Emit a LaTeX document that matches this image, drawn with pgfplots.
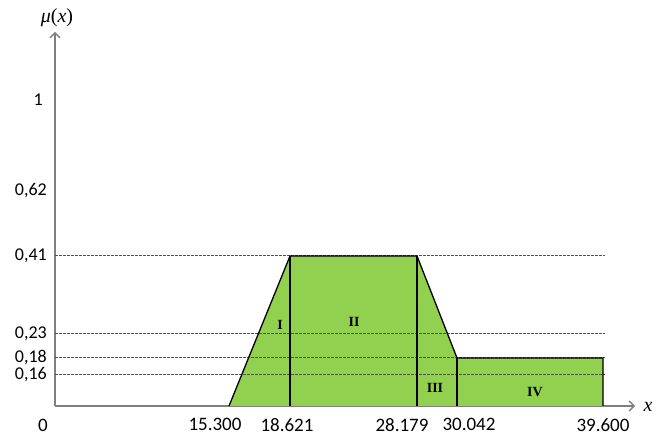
\documentclass[border=0pt]{standalone}
\usepackage{pgfplots}
\pgfplotsset{compat=1.18}
\usepackage{fontspec}
\setmainfont{Carlito}
\newfontfamily\romanfont{Liberation Serif}
\usetikzlibrary{arrows.meta}
\definecolor{fillgreen}{HTML}{92D050}
\definecolor{axisgray}{HTML}{7F7F7F}
\definecolor{dashgray}{HTML}{505050}
\begin{document}
\begin{tikzpicture}[x=1pt,y=1pt]
\begin{axis}[
  at={(55pt,30pt)}, anchor=origin,
  x=1pt, y=1pt,
  xmin=0, xmax=580, ymin=0, ymax=374,
  axis lines=left,
  axis line style={axisgray, line width=1.3pt, -{Straight Barb[length=5pt,width=10pt]}},
  major tick length=0pt,
  clip=false,
  font=\fontsize{19}{22}\selectfont,
  ytick={31,48,72,150,215,306},
  yticklabels={{0,16},{0,18},{0,23},{0,41},{0,62},{1\hspace*{4pt}}},
  yticklabel style={anchor=east, inner sep=0pt, font=\fontsize{18}{20}\selectfont},
  yticklabel shift=8pt,
  xtick={160,232,347,414,548},
  xticklabels={15.300,18.621,28.179,30.042,39.600},
  xticklabel style={anchor=north, inner sep=0pt},
  xticklabel shift=12pt,
]
% filled membership area
\addplot[fill=fillgreen, draw=none, forget plot] coordinates {(174,0) (235,150) (362,150) (402,48) (548,48) (548,0)} -- cycle;
% dashed reference levels
\addplot[dashgray, line width=1pt, dash pattern=on 2.5pt off 1.5pt] coordinates {(0,31) (550,31)};
\addplot[dashgray, line width=1pt, dash pattern=on 2.5pt off 1.5pt] coordinates {(0,48) (550,48)};
\addplot[dashgray, line width=1pt, dash pattern=on 2.5pt off 1.5pt] coordinates {(0,72) (550,72)};
\addplot[dashgray, line width=1pt, dash pattern=on 2.5pt off 1.5pt] coordinates {(0,150) (550,150)};
% outline
\addplot[black, line width=1.3pt] coordinates {(174,0) (235,150) (362,150) (402,48) (548,48) (548,0)};
\addplot[black, line width=1.3pt] coordinates {(235,0) (235,150)};
\addplot[black, line width=1.3pt] coordinates {(362,0) (362,150)};
\addplot[black, line width=1.3pt] coordinates {(402,0) (402,48)};
% region labels
\node[font=\romanfont\bfseries\fontsize{14}{16}\selectfont] at (axis cs:225,81) {I};
\node[font=\romanfont\bfseries\fontsize{14}{16}\selectfont] at (axis cs:299,84) {II};
\node[font=\romanfont\bfseries\fontsize{14}{16}\selectfont] at (axis cs:380,18) {III};
\node[font=\romanfont\bfseries\fontsize{14}{16}\selectfont] at (axis cs:480,14) {IV};
% axis labels
\node[font=\romanfont\fontsize{20}{22}\selectfont] at (axis cs:2,388) {\itshape μ\upshape(\itshape x\upshape)};
\node[font=\romanfont\itshape\fontsize{20}{22}\selectfont] at (axis cs:593,-1) {x};
\node[font=\fontsize{19}{22}\selectfont] at (axis cs:-12,-19) {0};
\end{axis}
\pgfresetboundingbox
\useasboundingbox (0,0) rectangle (664,436);
\end{tikzpicture}
\end{document}
